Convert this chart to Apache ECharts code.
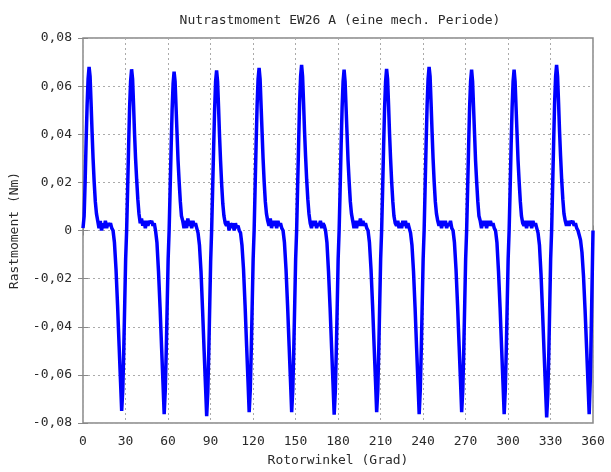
<!DOCTYPE html>
<html>
<head>
<meta charset="utf-8">
<script src="https://cdn.jsdelivr.net/npm/echarts@6/dist/echarts.min.js"></script>
<style>
  html, body { margin: 0; padding: 0; background: #fff; }
  #chart { width: 611px; height: 472px; }
</style>
</head>
<body>
<div id="chart"></div>
<script>
// Rotorwinkel in Grad (one row per 30 deg period)
const angle = [
  0, 0.8, 1.5, 2.2, 2.9, 3.6, 4.3, 5.0, 5.7, 6.4, 7.1, 7.9, 8.7, 9.5, 10.4, 11.3, 12.2, 13.1, 14.0, 14.9, 15.8, 16.7, 17.6, 18.5, 19.4, 20.3, 21.2, 22.2, 23.3, 24.4, 25.5, 26.5, 27.3, 28.1, 28.8, 29.5,
  30.1, 30.8, 31.5, 32.2, 32.9, 33.6, 34.3, 35.0, 35.7, 36.4, 37.1, 37.9, 38.7, 39.5, 40.4, 41.3, 42.2, 43.1, 44.0, 44.9, 45.8, 46.7, 47.6, 48.5, 49.4, 50.3, 51.2, 52.2, 53.3, 54.4, 55.5, 56.5, 57.3, 58.1, 58.8, 59.5,
  60.1, 60.8, 61.5, 62.2, 62.9, 63.6, 64.3, 65.0, 65.7, 66.4, 67.1, 67.9, 68.7, 69.5, 70.4, 71.3, 72.2, 73.1, 74.0, 74.9, 75.8, 76.7, 77.6, 78.5, 79.4, 80.3, 81.2, 82.2, 83.3, 84.4, 85.5, 86.5, 87.3, 88.1, 88.8, 89.5,
  90.1, 90.8, 91.5, 92.2, 92.9, 93.6, 94.3, 95.0, 95.7, 96.4, 97.1, 97.9, 98.7, 99.5, 100.4, 101.3, 102.2, 103.1, 104.0, 104.9, 105.8, 106.7, 107.6, 108.5, 109.4, 110.3, 111.2, 112.2, 113.3, 114.4, 115.5, 116.5, 117.3, 118.1, 118.8, 119.5,
  120.1, 120.8, 121.5, 122.2, 122.9, 123.6, 124.3, 125.0, 125.7, 126.4, 127.1, 127.9, 128.7, 129.5, 130.4, 131.3, 132.2, 133.1, 134.0, 134.9, 135.8, 136.7, 137.6, 138.5, 139.4, 140.3, 141.2, 142.2, 143.3, 144.4, 145.5, 146.5, 147.3, 148.1, 148.8, 149.5,
  150.1, 150.8, 151.5, 152.2, 152.9, 153.6, 154.3, 155.0, 155.7, 156.4, 157.1, 157.9, 158.7, 159.5, 160.4, 161.3, 162.2, 163.1, 164.0, 164.9, 165.8, 166.7, 167.6, 168.5, 169.4, 170.3, 171.2, 172.2, 173.3, 174.4, 175.5, 176.5, 177.3, 178.1, 178.8, 179.5,
  180.1, 180.8, 181.5, 182.2, 182.9, 183.6, 184.3, 185.0, 185.7, 186.4, 187.1, 187.9, 188.7, 189.5, 190.4, 191.3, 192.2, 193.1, 194.0, 194.9, 195.8, 196.7, 197.6, 198.5, 199.4, 200.3, 201.2, 202.2, 203.3, 204.4, 205.5, 206.5, 207.3, 208.1, 208.8, 209.5,
  210.1, 210.8, 211.5, 212.2, 212.9, 213.6, 214.3, 215.0, 215.7, 216.4, 217.1, 217.9, 218.7, 219.5, 220.4, 221.3, 222.2, 223.1, 224.0, 224.9, 225.8, 226.7, 227.6, 228.5, 229.4, 230.3, 231.2, 232.2, 233.3, 234.4, 235.5, 236.5, 237.3, 238.1, 238.8, 239.5,
  240.1, 240.8, 241.5, 242.2, 242.9, 243.6, 244.3, 245.0, 245.7, 246.4, 247.1, 247.9, 248.7, 249.5, 250.4, 251.3, 252.2, 253.1, 254.0, 254.9, 255.8, 256.7, 257.6, 258.5, 259.4, 260.3, 261.2, 262.2, 263.3, 264.4, 265.5, 266.5, 267.3, 268.1, 268.8, 269.5,
  270.1, 270.8, 271.5, 272.2, 272.9, 273.6, 274.3, 275.0, 275.7, 276.4, 277.1, 277.9, 278.7, 279.5, 280.4, 281.3, 282.2, 283.1, 284.0, 284.9, 285.8, 286.7, 287.6, 288.5, 289.4, 290.3, 291.2, 292.2, 293.3, 294.4, 295.5, 296.5, 297.3, 298.1, 298.8, 299.5,
  300.1, 300.8, 301.5, 302.2, 302.9, 303.6, 304.3, 305.0, 305.7, 306.4, 307.1, 307.9, 308.7, 309.5, 310.4, 311.3, 312.2, 313.1, 314.0, 314.9, 315.8, 316.7, 317.6, 318.5, 319.4, 320.3, 321.2, 322.2, 323.3, 324.4, 325.5, 326.5, 327.3, 328.1, 328.8, 329.5,
  330.1, 330.8, 331.5, 332.2, 332.9, 333.6, 334.3, 335.0, 335.7, 336.4, 337.1, 337.9, 338.7, 339.5, 340.4, 341.3, 342.2, 343.1, 344.0, 344.9, 345.8, 346.7, 347.6, 348.5, 349.4, 350.3, 351.2, 352.2, 353.3, 354.4, 355.5, 356.5, 357.3, 358.1, 358.8, 359.5, 360
];

// Rastmoment in Nm at the angles above
const torque = [
  0.001, 0.006, 0.020, 0.037, 0.052, 0.063, 0.068, 0.064, 0.053, 0.041, 0.030, 0.020, 0.012, 0.007, 0.004, 0.001, 0.004, 0.000, 0.003, 0.001, 0.004, 0.001, 0.003, 0.002, 0.003, 0.001, 0.000, -0.005, -0.016, -0.031, -0.048, -0.063, -0.075, -0.066, -0.049, -0.029,
  -0.012, 0.000, 0.017, 0.035, 0.051, 0.062, 0.067, 0.063, 0.052, 0.040, 0.030, 0.021, 0.013, 0.007, 0.003, 0.005, 0.002, 0.004, 0.001, 0.004, 0.002, 0.004, 0.003, 0.004, 0.002, 0.003, 0.000, -0.005, -0.017, -0.032, -0.049, -0.064, -0.0763, -0.066, -0.049, -0.029,
  -0.012, 0.000, 0.017, 0.034, 0.050, 0.061, 0.066, 0.062, 0.051, 0.040, 0.029, 0.020, 0.012, 0.006, 0.004, 0.001, 0.004, 0.001, 0.005, 0.002, 0.004, 0.001, 0.004, 0.002, 0.003, 0.001, -0.001, -0.006, -0.017, -0.033, -0.050, -0.065, -0.0772, -0.067, -0.050, -0.030,
  -0.013, 0.000, 0.017, 0.034, 0.050, 0.062, 0.0665, 0.062, 0.051, 0.039, 0.029, 0.019, 0.011, 0.006, 0.003, 0.002, 0.004, 0.000, 0.003, 0.001, 0.003, 0.000, 0.003, 0.001, 0.002, 0.000, -0.001, -0.006, -0.016, -0.031, -0.048, -0.063, -0.0755, -0.066, -0.049, -0.029,
  -0.012, 0.000, 0.018, 0.036, 0.052, 0.063, 0.0676, 0.063, 0.052, 0.041, 0.030, 0.020, 0.012, 0.007, 0.004, 0.002, 0.005, 0.001, 0.004, 0.002, 0.004, 0.001, 0.004, 0.002, 0.003, 0.001, 0.000, -0.005, -0.016, -0.031, -0.048, -0.063, -0.0755, -0.066, -0.049, -0.029,
  -0.012, 0.000, 0.018, 0.036, 0.053, 0.064, 0.0688, 0.064, 0.053, 0.041, 0.031, 0.021, 0.013, 0.007, 0.003, 0.001, 0.004, 0.002, 0.004, 0.001, 0.003, 0.002, 0.004, 0.001, 0.003, 0.002, 0.000, -0.005, -0.017, -0.032, -0.049, -0.064, -0.0765, -0.067, -0.050, -0.030,
  -0.012, 0.000, 0.017, 0.035, 0.051, 0.062, 0.0669, 0.062, 0.051, 0.040, 0.029, 0.020, 0.012, 0.007, 0.004, 0.001, 0.004, 0.001, 0.004, 0.002, 0.005, 0.002, 0.004, 0.002, 0.003, 0.001, 0.000, -0.005, -0.016, -0.031, -0.048, -0.063, -0.0755, -0.066, -0.049, -0.029,
  -0.012, 0.000, 0.017, 0.035, 0.051, 0.062, 0.0672, 0.063, 0.052, 0.040, 0.030, 0.020, 0.012, 0.006, 0.003, 0.002, 0.004, 0.001, 0.003, 0.001, 0.004, 0.002, 0.004, 0.001, 0.003, 0.001, -0.001, -0.006, -0.017, -0.032, -0.049, -0.064, -0.0763, -0.066, -0.049, -0.029,
  -0.012, 0.000, 0.018, 0.036, 0.052, 0.063, 0.068, 0.064, 0.053, 0.041, 0.030, 0.020, 0.012, 0.007, 0.004, 0.002, 0.004, 0.001, 0.004, 0.002, 0.004, 0.001, 0.003, 0.002, 0.004, 0.001, 0.000, -0.005, -0.016, -0.031, -0.048, -0.063, -0.0755, -0.066, -0.049, -0.029,
  -0.012, 0.000, 0.017, 0.035, 0.051, 0.062, 0.0669, 0.062, 0.051, 0.040, 0.029, 0.020, 0.012, 0.006, 0.004, 0.001, 0.004, 0.002, 0.004, 0.001, 0.004, 0.002, 0.004, 0.002, 0.003, 0.001, 0.000, -0.005, -0.017, -0.032, -0.049, -0.064, -0.0763, -0.066, -0.049, -0.029,
  -0.012, 0.000, 0.017, 0.035, 0.051, 0.062, 0.0669, 0.062, 0.051, 0.040, 0.029, 0.020, 0.012, 0.006, 0.003, 0.002, 0.004, 0.001, 0.004, 0.002, 0.004, 0.001, 0.004, 0.002, 0.003, 0.001, -0.001, -0.006, -0.018, -0.034, -0.051, -0.066, -0.0777, -0.068, -0.051, -0.030,
  -0.012, 0.000, 0.018, 0.036, 0.053, 0.064, 0.0688, 0.064, 0.053, 0.041, 0.031, 0.021, 0.013, 0.007, 0.004, 0.002, 0.004, 0.002, 0.004, 0.003, 0.004, 0.002, 0.003, 0.001, 0.000, -0.002, -0.004, -0.009, -0.019, -0.033, -0.049, -0.064, -0.0763, -0.062, -0.040, -0.017, 0.000
];

const xTickLabels = ['0', '30', '60', '90', '120', '150', '180', '210', '240', '270', '300', '330', '360'];
const yTickLabels = ['-0,08', '-0,06', '-0,04', '-0,02', '0', '0,02', '0,04', '0,06', '0,08'];

const font = 'DejaVu Sans Mono';
const textColor = '#2a2a2a';

const myChart = echarts.init(document.getElementById('chart'), null, { renderer: 'canvas' });

const tickStyle = { inside: true, length: 5, lineStyle: { color: '#888', width: 1 } };
const gridLine = { show: true, lineStyle: { color: '#aaa', type: [2, 3], width: 1 } };

const options = {
  animation: false,
  backgroundColor: '#fff',
  title: {
    text: 'Nutrastmoment EW26 A (eine mech. Periode)',
    left: 335,
    top: 9,
    textAlign: 'center',
    textStyle: { fontFamily: font, fontSize: 13, fontWeight: 'normal', color: textColor }
  },
  grid: {
    left: 83, right: 18, top: 38, bottom: 47,
    show: true, borderColor: '#888', borderWidth: 1.5, backgroundColor: '#fff'
  },
  xAxis: [{
    type: 'value',
    min: 0, max: 360, interval: 30,
    name: 'Rotorwinkel (Grad)',
    nameLocation: 'middle',
    nameGap: 31,
    nameTextStyle: { fontFamily: font, fontSize: 13, color: textColor },
    axisLine: { show: false },
    axisTick: tickStyle,
    splitLine: gridLine,
    axisLabel: {
      margin: 12,
      fontFamily: font, fontSize: 13, color: textColor,
      formatter: (v) => xTickLabels[Math.round(v / 30)]
    }
  }, {
    type: 'value', position: 'top',
    min: 0, max: 360, interval: 30,
    axisLine: { show: false },
    axisTick: tickStyle,
    axisLabel: { show: false },
    splitLine: { show: false }
  }],
  yAxis: [{
    type: 'value',
    min: -0.08, max: 0.08, interval: 0.02,
    name: 'Rastmoment (Nm)',
    nameLocation: 'middle',
    nameGap: 62,
    nameTextStyle: { fontFamily: font, fontSize: 13, color: textColor },
    axisLine: { show: false },
    axisTick: tickStyle,
    splitLine: gridLine,
    axisLabel: {
      margin: 11,
      fontFamily: font, fontSize: 13, color: textColor,
      formatter: (v) => yTickLabels[Math.round((v + 0.08) / 0.02)]
    }
  }, {
    type: 'value', position: 'right',
    min: -0.08, max: 0.08, interval: 0.02,
    axisLine: { show: false },
    axisTick: tickStyle,
    axisLabel: { show: false },
    splitLine: { show: false }
  }],
  series: [{
    type: 'line',
    xAxisIndex: 0,
    yAxisIndex: 0,
    data: angle.map((a, i) => [a, torque[i]]),
    showSymbol: false,
    silent: true,
    lineStyle: { color: '#0000ff', width: 3.5 },
    clip: true
  }]
};

myChart.setOption(options);
</script>
</body>
</html>
